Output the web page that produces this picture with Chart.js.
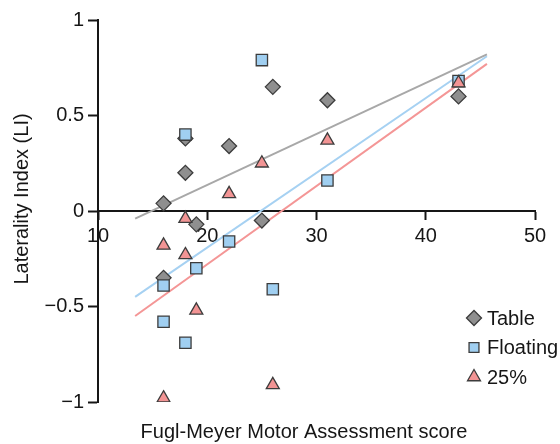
<!DOCTYPE html>
<html>
<head>
<meta charset="utf-8">
<script src="https://cdn.jsdelivr.net/npm/chart.js@4.4.1/dist/chart.umd.min.js"></script>
<style>
  html, body { margin: 0; padding: 0; background: #fff; }
  canvas { display: block; }
</style>
</head>
<body>
<canvas id="liChart" width="560" height="444"></canvas>
<script>
  // Fugl-Meyer scores of the subjects (same for all three conditions)
  const fmScores = [16, 16, 18, 18, 19, 22, 25, 26, 31, 43];

  // laterality index per condition
  const tableLI = [0.04, -0.35, 0.20, 0.38, -0.07, 0.34, -0.05, 0.65, 0.58, 0.60];
  const floatingLI = [-0.39, -0.58, 0.40, -0.69, -0.30, -0.16, 0.79, -0.41, 0.16, 0.68];
  const pct25LI = [-0.18, -0.98, -0.04, -0.23, -0.52, 0.09, 0.25, -0.91, 0.37, 0.67];

  // regression lines, end points
  const fitX = [13.4, 45.6];
  const tableFit = [-0.04, 0.82];
  const floatingFit = [-0.45, 0.81];
  const pct25Fit = [-0.55, 0.77];

  const xTicks = [10, 20, 30, 40, 50];
  const yTicks = [-1, -0.5, 0, 0.5, 1];

  const seriesNames = ['Table', 'Floating', '25%'];

  const FONT = '"Liberation Sans", Arial, Helvetica, sans-serif';
  const INK = '#161616';
  const EDGE = '#3c3c3c';

  Chart.defaults.font.family = FONT;
  Chart.defaults.font.size = 20;
  Chart.defaults.color = INK;

  function points(xs, ys) {
    return xs.map((x, i) => ({ x: x, y: ys[i] }));
  }

  const markers = [
    { style: 'rectRot', fill: '#8f8f8f', radius: 7.5 },
    { style: 'rect', fill: '#a0cff1', radius: 8 },
    { style: 'triangle', fill: '#f29494', radius: 7.5 },
  ];

  function scatterSet(label, data, m, order) {
    return {
      type: 'scatter',
      label: label,
      data: data,
      pointStyle: m.style,
      pointRadius: m.radius,
      pointBackgroundColor: m.fill,
      pointBorderColor: EDGE,
      pointBorderWidth: 1.3,
      order: order,
    };
  }

  function fitSet(label, ys, color) {
    return {
      type: 'line',
      label: label,
      data: points(fitX, ys),
      borderColor: color,
      borderWidth: 2,
      pointRadius: 0,
      fill: false,
      order: 5,
    };
  }

  const figureText = {
    id: 'figureText',
    afterDraw(chart) {
      const ctx = chart.ctx;
      ctx.save();
      ctx.fillStyle = INK;
      ctx.font = '20px ' + FONT;
      ctx.textAlign = 'center';
      ctx.textBaseline = 'middle';
      ctx.fillText('Fugl-Meyer Motor Assessment score', 304, 432);
      ctx.save();
      ctx.translate(22, 199);
      ctx.rotate(-Math.PI / 2);
      ctx.fillText('Laterality Index (LI)', 0, 0);
      ctx.restore();

      // legend, bottom right inside the plot
      ctx.textAlign = 'left';
      seriesNames.forEach((name, i) => {
        const y = 318 + i * 29.5;
        const m = markers[i];
        ctx.fillStyle = m.fill;
        ctx.strokeStyle = EDGE;
        ctx.lineWidth = 1.3;
        Chart.helpers.drawPoint(ctx, {
          pointStyle: m.style,
          radius: m.style === 'rect' ? 7 : m.radius,
          rotation: 0,
          borderWidth: 1.3,
        }, 474, y);
        ctx.fillStyle = INK;
        ctx.fillText(name, 487, y + 1);
      });
      ctx.restore();
    }
  };

  const ctx = document.getElementById('liChart').getContext('2d');
  new Chart(ctx, {
    data: {
      datasets: [
        scatterSet(seriesNames[0], points(fmScores, tableLI), markers[0], 3),
        scatterSet(seriesNames[1], points(fmScores, floatingLI), markers[1], 2),
        scatterSet(seriesNames[2], points(fmScores, pct25LI), markers[2], 1),
        fitSet('Table fit', tableFit, '#a8a8a8'),
        fitSet('Floating fit', floatingFit, '#a6d1f2'),
        fitSet('25% fit', pct25Fit, '#f49696'),
      ]
    },
    options: {
      responsive: false,
      animation: false,
      layout: {
        padding: { left: 0, top: 20, right: 25, bottom: 42 },
      },
      plugins: {
        legend: { display: false },
        tooltip: { enabled: false },
      },
      scales: {
        x: {
          type: 'linear',
          position: { y: 0 },
          min: 10,
          max: 50,
          afterBuildTicks(scale) {
            scale.ticks = xTicks.map(v => ({ value: v }));
          },
          ticks: { padding: 5, color: INK, font: { size: 20 } },
          grid: {
            drawOnChartArea: false,
            drawTicks: true,
            tickLength: 8,
            tickWidth: 2,
            tickColor: INK,
          },
          border: { display: true, color: INK, width: 2 },
        },
        y: {
          type: 'linear',
          position: 'left',
          min: -1,
          max: 1,
          afterBuildTicks(scale) {
            scale.ticks = yTicks.map(v => ({ value: v }));
          },
          afterFit(scale) {
            scale.width = 98;
          },
          ticks: {
            padding: 4,
            color: INK,
            font: { size: 20 },
            callback: v => (v < 0 ? '\u2212' + Math.abs(v) : String(v)),
          },
          grid: {
            drawOnChartArea: false,
            drawTicks: true,
            tickLength: 10,
            tickWidth: 2,
            tickColor: INK,
          },
          border: { display: true, color: INK, width: 2 },
        },
      },
    },
    plugins: [figureText],
  });
</script>
</body>
</html>
